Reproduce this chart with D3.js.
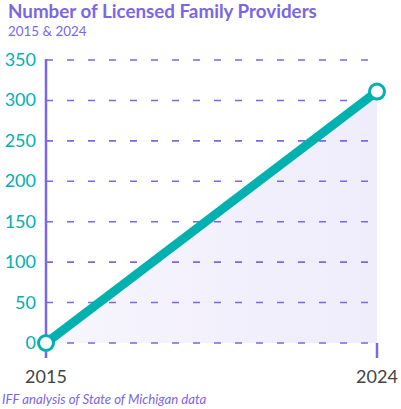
<!DOCTYPE html>
<html><head><meta charset="utf-8">
<script src="https://cdn.jsdelivr.net/npm/d3@7"></script>
<style>body{margin:0;background:#fff}svg{display:block}</style>
</head><body>
<svg id="c" width="401" height="409"></svg>
<script>
const years = ["2015", "2024"];
const values = [0, 311];
const yTicks = [0, 50, 100, 150, 200, 250, 300, 350];

const purple = "#7b66e6", teal = "#00b1b0";
const svg = d3.select("#c");
const x = d3.scalePoint().domain(years).range([46, 377]);
const y = d3.scaleLinear().domain([0, 350]).range([343, 60]);

const defs = svg.append("defs");
const g = defs.append("linearGradient").attr("id","ag").attr("x1","0").attr("x2","1").attr("y1","0").attr("y2","0");
g.append("stop").attr("offset","0").attr("stop-color","#f7f5fd");
g.append("stop").attr("offset","1").attr("stop-color","#efecfc");

svg.append("text").attr("x",8).attr("y",18).attr("fill",purple)
  .attr("font-family","Lato").attr("font-weight","bold").attr("font-size",18.8)
  .text("Number of Licensed Family Providers");
svg.append("text").attr("x",8).attr("y",35.5).attr("fill",purple)
  .attr("font-family","Lato").attr("font-size",13.4)
  .text("2015 & 2024");

const data = years.map((d,i)=>({k:d,v:values[i]}));
svg.append("path").datum(data)
  .attr("d", d3.area().x(d=>x(d.k)).y0(y(0)).y1(d=>y(d.v)))
  .attr("fill","url(#ag)");

// gridlines
svg.append("g").selectAll("line").data(yTicks).join("line")
  .attr("x1",46).attr("x2",370).attr("y1",d=>y(d)).attr("y2",d=>y(d))
  .attr("stroke",purple).attr("stroke-width",1.6).attr("stroke-dasharray","7 14");

// y axis line
svg.append("line").attr("x1",46).attr("x2",46).attr("y1",y(350)-1).attr("y2",358)
  .attr("stroke",purple).attr("stroke-width",2.5);
svg.append("line").attr("x1",x("2024")).attr("x2",x("2024")).attr("y1",y(0)).attr("y2",358)
  .attr("stroke",purple).attr("stroke-width",2.5);

svg.append("g").selectAll("text").data(yTicks).join("text")
  .attr("x",36).attr("y",d=>y(d)+6).attr("text-anchor","end")
  .attr("fill",teal).attr("font-family","Lato").attr("font-size",18)
  .text(d=>d);

svg.append("g").selectAll("text").data(years).join("text")
  .attr("x",d=>x(d)).attr("y",383).attr("text-anchor","middle")
  .attr("fill","#444").attr("font-family","Lato").attr("font-size",18)
  .text(d=>d);

svg.append("path").datum(data)
  .attr("d", d3.line().x(d=>x(d.k)).y(d=>y(d.v)))
  .attr("fill","none").attr("stroke",teal).attr("stroke-width",9);

svg.append("g").selectAll("circle").data(data).join("circle")
  .attr("cx",d=>x(d.k)).attr("cy",d=>y(d.v)).attr("r",7.5)
  .attr("fill","#fff").attr("stroke",teal).attr("stroke-width",3);

svg.append("text").attr("x",2).attr("y",404).attr("fill",purple)
  .attr("font-family","Lato").attr("font-style","italic").attr("font-size",13.2)
  .text("IFF analysis of State of Michigan data");
</script>
</body></html>
